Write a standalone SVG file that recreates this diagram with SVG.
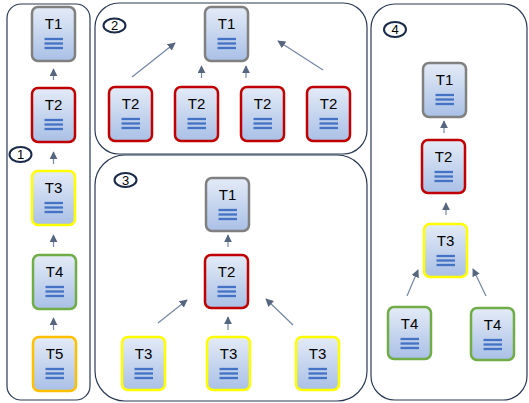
<svg xmlns="http://www.w3.org/2000/svg" width="529" height="403" viewBox="0 0 529 403">
<defs>
<linearGradient id="g" x1="0" y1="0" x2="0" y2="1">
<stop offset="0" stop-color="#e4ebf7"/>
<stop offset="1" stop-color="#a9c0e6"/>
</linearGradient>
<marker id="ah" viewBox="0 0 10 10" refX="9" refY="5" markerWidth="8" markerHeight="8" markerUnits="userSpaceOnUse" orient="auto">
<path d="M0,0 L10,5 L0,10 z" fill="#56667f"/>
</marker>
<g id="ico">
<line x1="12.5" y1="32" x2="31" y2="32"/>
<line x1="12.5" y1="36.5" x2="31" y2="36.5"/>
<line x1="12.5" y1="41" x2="31" y2="41"/>
</g>
</defs>
<style>
.panel{fill:#fff;stroke:#2b3a55;stroke-width:1.2}
.n rect{fill:url(#g);stroke-width:2.5}
.n text{font-family:"Liberation Sans",Arial,sans-serif;font-size:15px;fill:#000;text-anchor:middle}
.n use{stroke:#4472c4;stroke-width:2.3}
.gy rect{stroke:#808080}
.rd rect{stroke:#c00000}
.yl rect{stroke:#ffff00}
.gr rect{stroke:#70ad47}
.or rect{stroke:#ffc000}
.tag ellipse{fill:#fff;stroke:#1a2a48;stroke-width:2}
.tag text{font-family:"Liberation Sans",Arial,sans-serif;font-size:13px;fill:#000;text-anchor:middle}
.c line{stroke:#7586a3;stroke-width:1.2;marker-end:url(#ah)}
</style>
<rect width="529" height="403" fill="#fff"/>
<g id="panels">
<rect class="panel" x="7" y="4" width="83" height="396" rx="14"/>
<rect class="panel" x="95" y="3" width="272" height="151" rx="24"/>
<rect class="panel" x="95" y="155" width="272" height="246" rx="30"/>
<rect class="panel" x="371" y="4" width="156" height="396" rx="24"/>
</g>
<g id="tags">
<g id="tag1" class="tag"><ellipse cx="20.5" cy="154.5" rx="11" ry="7.5"/><text x="20.5" y="159">1</text></g>
<g id="tag2" class="tag"><ellipse cx="114.5" cy="25.5" rx="11" ry="7"/><text x="114.5" y="30">2</text></g>
<g id="tag3" class="tag"><ellipse cx="125.5" cy="180" rx="11" ry="7"/><text x="125.5" y="184.5">3</text></g>
<g id="tag4" class="tag"><ellipse cx="395" cy="29.5" rx="11" ry="7.5"/><text x="395" y="34">4</text></g>
</g>
<g id="connectors" class="c">
<line x1="53.5" y1="80" x2="53.5" y2="69"/>
<line x1="53.5" y1="164" x2="53.5" y2="152"/>
<line x1="53.5" y1="247" x2="53.5" y2="235"/>
<line x1="53.5" y1="330" x2="53.5" y2="318"/>
<line x1="132" y1="77" x2="175" y2="43"/>
<line x1="201.5" y1="78" x2="201.5" y2="66"/>
<line x1="246" y1="78" x2="246" y2="66"/>
<line x1="323" y1="70" x2="278" y2="41"/>
<line x1="228" y1="247" x2="228" y2="235"/>
<line x1="158" y1="323" x2="187" y2="300"/>
<line x1="228" y1="330" x2="228" y2="317"/>
<line x1="293" y1="325" x2="266" y2="299"/>
<line x1="444" y1="133" x2="444" y2="121"/>
<line x1="446" y1="215" x2="446" y2="203"/>
<line x1="407" y1="296" x2="418" y2="270"/>
<line x1="486" y1="296" x2="473" y2="269"/>
</g>
<g id="p1-T1" class="n gy" transform="translate(32,7)"><rect width="43" height="54" rx="6"/><text x="21.5" y="22">T1</text><use href="#ico"/></g>
<g id="p1-T2" class="n rd" transform="translate(32,88)"><rect width="43" height="54" rx="6"/><text x="21.5" y="22">T2</text><use href="#ico"/></g>
<g id="p1-T3" class="n yl" transform="translate(32,171)"><rect width="43" height="54" rx="6"/><text x="21.5" y="22">T3</text><use href="#ico"/></g>
<g id="p1-T4" class="n gr" transform="translate(33,255)"><rect width="43" height="54" rx="6"/><text x="21.5" y="22">T4</text><use href="#ico"/></g>
<g id="p1-T5" class="n or" transform="translate(33,337)"><rect width="43" height="54" rx="6"/><text x="21.5" y="22">T5</text><use href="#ico"/></g>
<g id="p2-T1" class="n gy" transform="translate(205,7)"><rect width="43" height="54" rx="6"/><text x="21.5" y="22">T1</text><use href="#ico"/></g>
<g id="p2-T2a" class="n rd" transform="translate(109,87)"><rect width="43" height="54" rx="6"/><text x="21.5" y="22">T2</text><use href="#ico"/></g>
<g id="p2-T2b" class="n rd" transform="translate(175,87)"><rect width="43" height="54" rx="6"/><text x="21.5" y="22">T2</text><use href="#ico"/></g>
<g id="p2-T2c" class="n rd" transform="translate(241,87)"><rect width="43" height="54" rx="6"/><text x="21.5" y="22">T2</text><use href="#ico"/></g>
<g id="p2-T2d" class="n rd" transform="translate(307,87)"><rect width="43" height="54" rx="6"/><text x="21.5" y="22">T2</text><use href="#ico"/></g>
<g id="p3-T1" class="n gy" transform="translate(206,178)"><rect width="43" height="53" rx="6"/><text x="21.5" y="22">T1</text><use href="#ico"/></g>
<g id="p3-T2" class="n rd" transform="translate(205,255)"><rect width="43" height="53" rx="6"/><text x="21.5" y="22">T2</text><use href="#ico"/></g>
<g id="p3-T3a" class="n yl" transform="translate(122,337)"><rect width="43" height="53" rx="6"/><text x="21.5" y="22">T3</text><use href="#ico"/></g>
<g id="p3-T3b" class="n yl" transform="translate(207,337)"><rect width="43" height="53" rx="6"/><text x="21.5" y="22">T3</text><use href="#ico"/></g>
<g id="p3-T3c" class="n yl" transform="translate(296,337)"><rect width="43" height="53" rx="6"/><text x="21.5" y="22">T3</text><use href="#ico"/></g>
<g id="p4-T1" class="n gy" transform="translate(423,63)"><rect width="43" height="54" rx="6"/><text x="21.5" y="22">T1</text><use href="#ico"/></g>
<g id="p4-T2" class="n rd" transform="translate(422,140)"><rect width="43" height="53" rx="6"/><text x="21.5" y="22">T2</text><use href="#ico"/></g>
<g id="p4-T3" class="n yl" transform="translate(424,224)"><rect width="43" height="53" rx="6"/><text x="21.5" y="22">T3</text><use href="#ico"/></g>
<g id="p4-T4a" class="n gr" transform="translate(388,307)"><rect width="43" height="52" rx="6"/><text x="21.5" y="22">T4</text><use href="#ico"/></g>
<g id="p4-T4b" class="n gr" transform="translate(471,308)"><rect width="43" height="52" rx="6"/><text x="21.5" y="22">T4</text><use href="#ico"/></g>
</svg>
